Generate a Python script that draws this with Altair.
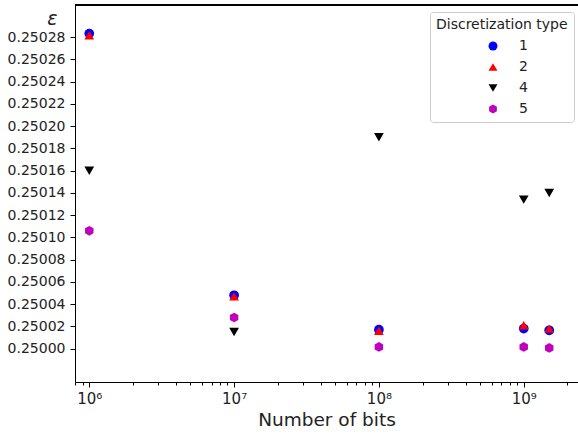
import altair as alt
import pandas as pd

# ---- data ----
bits = [1e6, 1e7, 1e8, 1e9, 1.5e9]
types = ["1", "2", "4", "5"]
eps_type1 = [0.2502833, 0.250048, 0.250017, 0.250018, 0.2500165]
eps_type2 = [0.2502818, 0.250047, 0.250016, 0.250021, 0.250018]
eps_type4 = [0.250160, 0.250015, 0.250190, 0.250134, 0.250140]
eps_type5 = [0.250106, 0.250028, 0.2500015, 0.2500015, 0.2500006]

major_ticks = [1000000, 10000000, 100000000, 1000000000]
major_labels = ["10⁶", "10⁷", "10⁸", "10⁹"]
minor_ticks = [8e5, 9e5] + [m * 10 ** e for e in range(6, 9) for m in range(2, 10)] + [2e9]
y_ticks = [round(0.25 + 0.00002 * i, 5) for i in range(15)]

colors = ["#0000ff", "#ff0000", "#000000", "#bf00bf"]
hexagon = "M0,-1L0.866,-0.5L0.866,0.5L0,1L-0.866,0.5L-0.866,-0.5Z"
shapes = ["circle", "triangle-up", "triangle-down", hexagon]

rows = []
for t, vals in zip(types, [eps_type1, eps_type2, eps_type4, eps_type5]):
    for b, v in zip(bits, vals):
        rows.append({"bits": b, "eps": v, "type": t})
df = pd.DataFrame(rows)

FONT = "DejaVu Sans"
W, H = 503, 377

label_expr = " : ".join(
    f"datum.value == {v} ? '{l}'" for v, l in zip(major_ticks, major_labels)
) + " : ''"
major_test = "indexof([" + ",".join(str(v) for v in major_ticks) + "], datum.value) >= 0"

x_scale = alt.Scale(type="log", domain=[7.97e5, 2.37e9], nice=False)
y_scale = alt.Scale(domain=[0.24997, 0.250309], zero=False, nice=False)

points = alt.Chart(df).mark_point(filled=True, opacity=1, size=95).encode(
    x=alt.X(
        "bits:Q",
        scale=x_scale,
        axis=alt.Axis(
            title="Number of bits",
            values=sorted(major_ticks + minor_ticks),
            labelExpr=label_expr,
            labelOverlap=False,
            labelFontSize=15,
            labelFont=FONT,
            labelColor="#222222",
            labelPadding=4,
            tickSize={"condition": {"test": major_test, "value": 5}, "value": 3},
            tickColor="#000000",
            domainColor="#000000",
            grid=False,
            titleFont=FONT,
            titleFontSize=18.5,
            titleFontWeight="normal",
            titleColor="#222222",
            titlePadding=4,
        ),
    ),
    y=alt.Y(
        "eps:Q",
        scale=y_scale,
        axis=alt.Axis(
            title="ε",
            values=y_ticks,
            format=".5f",
            labelFontSize=14,
            labelFont=FONT,
            labelColor="#222222",
            labelPadding=5,
            tickSize=5,
            tickColor="#000000",
            domainColor="#000000",
            grid=False,
            titleAngle=0,
            titleX=-23,
            titleY=13,
            titleAlign="center",
            titleBaseline="middle",
            titleFont=FONT,
            titleFontStyle="italic",
            titleFontWeight="normal",
            titleFontSize=19,
            titleColor="#222222",
        ),
    ),
    color=alt.Color(
        "type:N",
        scale=alt.Scale(domain=types, range=colors),
        legend=alt.Legend(
            title="Discretization type",
            orient="none",
            legendX=355,
            legendY=7,
            padding=6,
            fillColor="white",
            strokeColor="#cccccc",
            cornerRadius=3,
            titleFont=FONT,
            titleFontSize=14,
            titleFontWeight="normal",
            titleColor="#222222",
            titlePadding=7,
            labelFont=FONT,
            labelFontSize=14,
            labelColor="#222222",
            symbolOffset=50,
            labelOffset=19,
            rowPadding=7,
            symbolSize=80,
        ),
    ),
    shape=alt.Shape("type:N", scale=alt.Scale(domain=types, range=shapes)),
    order=alt.Order("type:N"),
)

top_spine = alt.Chart(df).mark_rule(color="#000000", strokeWidth=1).encode(
    x=alt.value(0), x2=alt.value(W), y=alt.value(0)
)

chart = (
    alt.layer(top_spine, points)
    .properties(
        width=W,
        height=H,
        autosize=alt.AutoSizeParams(type="none"),
        padding={"left": 75, "top": 5, "right": 0, "bottom": 54},
        background="white",
    )
    .configure_view(stroke=None)
)

chart.save("out.html", embed_options={"renderer": "svg", "actions": False})
